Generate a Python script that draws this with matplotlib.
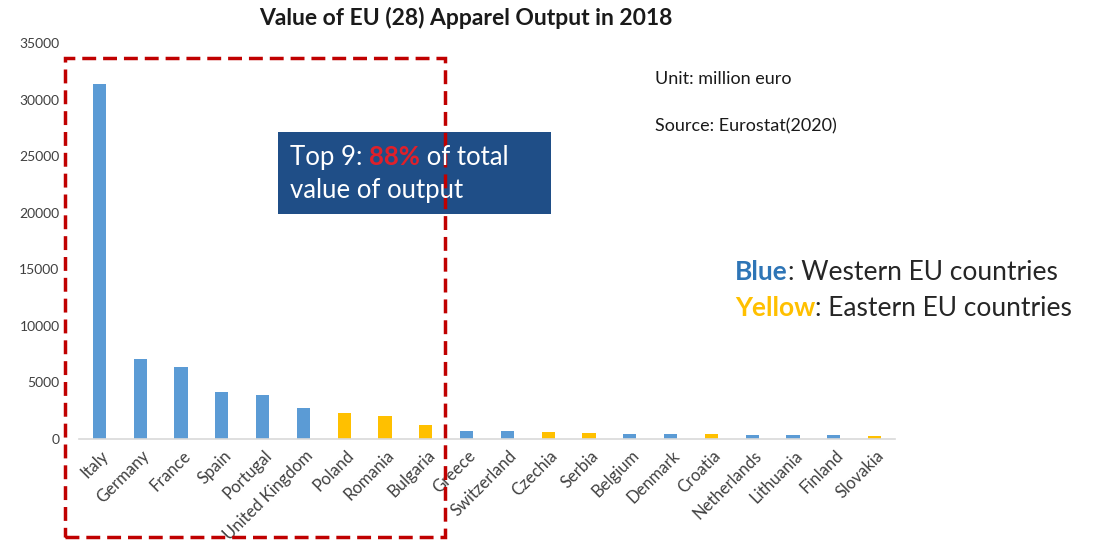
import matplotlib
matplotlib.use("Agg")
import matplotlib.pyplot as plt
from matplotlib.patches import Rectangle
from matplotlib.transforms import ScaledTranslation

countries = ["Italy", "Germany", "France", "Spain", "Portugal", "United Kingdom",
             "Poland", "Romania", "Bulgaria", "Greece", "Switzerland", "Czechia",
             "Serbia", "Belgium", "Denmark", "Croatia", "Netherlands", "Lithuania",
             "Finland", "Slovakia"]
values = [31400, 7050, 6400, 4150, 3850, 2700, 2300, 2050, 1250, 750, 700, 600,
          550, 450, 420, 420, 350, 350, 350, 250]
region = ["W", "W", "W", "W", "W", "W", "E", "E", "E", "W", "W", "E",
          "E", "W", "W", "E", "W", "W", "W", "E"]
yticks = [0, 5000, 10000, 15000, 20000, 25000, 30000, 35000]

BLUE = "#5B9BD5"
YELLOW = "#FFC000"
FONT = ["Lato", "DejaVu Sans"]
plt.rcParams["font.family"] = FONT

W, H = 1096, 543
fig = plt.figure(figsize=(W / 100, H / 100), dpi=100)
ax = fig.add_axes([79 / W, 1 - 439 / H, (895 - 79) / W, (439 - 43) / H])

colors = [BLUE if r == "W" else YELLOW for r in region]
x = list(range(len(countries)))
ax.bar(x, values, width=0.32, color=colors, zorder=2)
ax.set_xlim(-0.5, len(countries) - 0.5)
ax.set_ylim(0, 35000)
ax.set_yticks(yticks)
ax.set_yticklabels([str(v) for v in yticks], fontsize=10, color="#404040")
ax.set_xticks(x)
ax.set_xticklabels(countries, rotation=45, ha="right", va="center",
                   rotation_mode="anchor", fontsize=12, color="#404040")
ax.tick_params(axis="both", length=0)
ax.tick_params(axis="y", pad=14)
ax.tick_params(axis="x", pad=10)
shift = ScaledTranslation(7 / 100, 0, fig.dpi_scale_trans)
for lab in ax.get_xticklabels():
    lab.set_transform(lab.get_transform() + shift)
for s in ["top", "right", "left"]:
    ax.spines[s].set_visible(False)
ax.spines["bottom"].set_color("#D9D9D9")
ax.spines["bottom"].set_linewidth(1.2)

fig.text(466 / W, 1 - 18 / H, "Value of EU (28) Apparel Output in 2018",
         ha="center", va="center", fontsize=16.5, fontweight="bold", color="#1a1a1a")

# red dashed rectangle
fig.patches.append(Rectangle((65 / W, 1 - 537 / H), (445 - 65) / W, (537 - 58) / H,
                             transform=fig.transFigure, fill=False,
                             edgecolor="#C00000", linewidth=2.5,
                             linestyle=(0, (4, 2)), zorder=5))

# blue box
fig.patches.append(Rectangle((278 / W, 1 - 214 / H), (551 - 278) / W, (214 - 132) / H,
                             transform=fig.transFigure, facecolor="#1F4E87",
                             edgecolor="none", zorder=4))
BOXFS = 18.5
t1 = fig.text(290 / W, 1 - 165 / H, "Top 9: ", ha="left", va="baseline",
              fontsize=BOXFS, color="white", zorder=6)
t2 = fig.text(0, 0, "88%", fontsize=BOXFS, color="#E0202A", fontweight="bold", zorder=6)
t3 = fig.text(0, 0, " of total", fontsize=BOXFS, color="white", zorder=6)
fig.text(290 / W, 1 - 198 / H, "value of output", ha="left", va="baseline",
         fontsize=BOXFS, color="white", zorder=6)

fig.text(655 / W, 1 - 79 / H, "Unit: million euro", ha="left", va="center",
         fontsize=13, color="#1a1a1a")
fig.text(655 / W, 1 - 126 / H, "Source: Eurostat(2020)", ha="left", va="center",
         fontsize=13, color="#1a1a1a")

LEGFS = 19
l1 = fig.text(735 / W, 1 - 280 / H, "Blue", ha="left", va="baseline",
              fontsize=LEGFS, color="#2E75B6", fontweight="bold")
l1b = fig.text(0, 0, ": Western EU countries", fontsize=LEGFS, color="#262626")
l2 = fig.text(735 / W, 1 - 316 / H, "Yellow", ha="left", va="baseline",
              fontsize=LEGFS, color=YELLOW, fontweight="bold")
l2b = fig.text(0, 0, ": Eastern EU countries", fontsize=LEGFS, color="#262626")

fig.canvas.draw()
r = fig.canvas.get_renderer()


def after(prev, nxt):
    bb = prev.get_window_extent(r)
    inv = fig.transFigure.inverted()
    xf, _ = inv.transform((bb.x1, bb.y0))
    nxt.set_position((xf, prev.get_position()[1]))
    nxt.set_ha("left")
    nxt.set_va("baseline")
    fig.canvas.draw()


after(t1, t2)
after(t2, t3)
after(l1, l1b)
after(l2, l2b)

fig.savefig("out.png", dpi=100, facecolor="white")
